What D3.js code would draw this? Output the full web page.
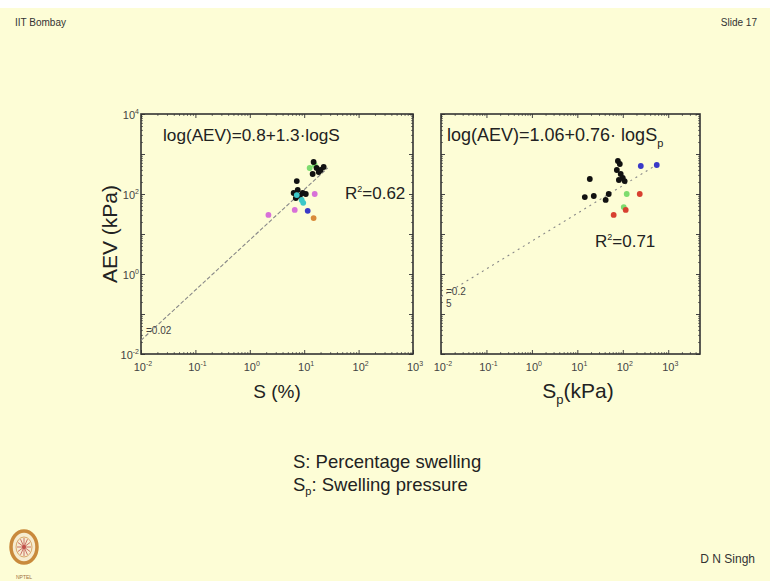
<!DOCTYPE html>
<html>
<head>
<meta charset="utf-8">
<script src="https://cdn.jsdelivr.net/npm/d3@7"></script>
<style>
  body { margin: 0; background: #fff; }
  svg { display: block; font-family: "Liberation Sans", Arial, sans-serif; }
</style>
</head>
<body>
<svg id="chart" width="770" height="581"></svg>
<script>
// tick labels (exponents of 10)
const xTickExp = [-2, -1, 0, 1, 2, 3];
const yTickExp = [4, 2, 0, -2];

// left panel: S (%) vs AEV (kPa), one array per marker colour
const leftBlack = [[14.9, 631], [16.9, 447], [20, 398], [22.8, 473], [18.5, 355], [14.3, 316],
  [7.3, 211], [6.4, 106], [7.6, 126], [8.3, 89], [9.4, 106], [10.7, 100], [7.0, 79]];
const leftGreen = [[15.6, 531], [12.6, 447]];
const leftCyan = [[7.3, 94], [9.0, 71], [9.6, 60]];
const leftMagenta = [[15.6, 100], [6.7, 40], [2.2, 30]];
const leftBlue = [[11.6, 38]];
const leftOrange = [[14.9, 25]];
const leftFit = [[0.01, 0.022], [27, 447]];

// right panel: Sp (kPa) vs AEV (kPa)
const rightBlack = [[18.8, 237], [14.6, 84], [23, 89], [42, 71], [49, 100], [78, 668], [86, 562],
  [74, 398], [90, 316], [100, 251], [82, 224], [110, 211]];
const rightBlue = [[249, 501], [559, 531]];
const rightGreen = [[122, 100], [105, 47]];
const rightRed = [[236, 100], [116, 40], [63, 30]];
const rightFit = [[0.01, 0.27], [460, 470]];

const colors = {
  black: '#111', green: '#7ddc6e', cyan: '#3cc8c8', magenta: '#d870d8',
  blue: '#3a3ac8', orange: '#d98a3a', red: '#d84030'
};

const svg = d3.select('#chart');

// slide background
svg.append('rect').attr('width', 770).attr('height', 581).attr('fill', '#fff');
svg.append('rect').attr('y', 8).attr('width', 770).attr('height', 573).attr('fill', '#fdfdd6');

svg.append('text').attr('x', 15).attr('y', 26).attr('font-size', 10).attr('fill', '#333').text('IIT Bombay');
svg.append('text').attr('x', 757).attr('y', 26).attr('font-size', 10).attr('fill', '#333')
  .attr('text-anchor', 'end').text('Slide 17');
svg.append('text').attr('x', 755).attr('y', 563).attr('font-size', 12).attr('fill', '#333')
  .attr('text-anchor', 'end').text('D N Singh');

// y scale is shared by both panels
const y = d3.scaleLog().domain([1e-2, 1e4]).range([354, 114]);
const xL = d3.scaleLog().domain([1e-2, 1e3]).range([141, 413]);
const xR = d3.scaleLog().domain([1e-2, 5000]).range([441, 700]);

function minorTicks(domain) {
  const out = [];
  for (let e = Math.floor(Math.log10(domain[0])); e < Math.ceil(Math.log10(domain[1])); e++) {
    for (let k = 2; k <= 9; k++) {
      const v = k * Math.pow(10, e);
      if (v > domain[0] && v < domain[1]) out.push(v);
    }
  }
  return out;
}
function majorTicks(domain) {
  const out = [];
  for (let e = Math.ceil(Math.log10(domain[0]) - 1e-9); Math.pow(10, e) <= domain[1] * 1.0001; e++) out.push(Math.pow(10, e));
  return out;
}

function powLabel(g, x0, y0, exp, anchor) {
  const t = g.append('text').attr('x', x0).attr('y', y0).attr('font-size', 11)
    .attr('fill', '#444').attr('text-anchor', anchor);
  t.append('tspan').text('10');
  t.append('tspan').attr('font-size', 7).attr('dy', -5).text(exp);
}

function panel(x, opts) {
  const g = svg.append('g');
  const [x0, x1] = x.range();
  const [y0, y1] = y.range();

  // ticks on all four sides, pointing inward
  const sides = [
    [d3.axisBottom(x), `translate(0,${y0})`],
    [d3.axisTop(x), `translate(0,${y1})`],
    [d3.axisLeft(y), `translate(${x0},0)`],
    [d3.axisRight(y), `translate(${x1},0)`]
  ];
  sides.forEach(([ax, tr], i) => {
    const dom = (i < 2 ? x : y).domain();
    g.append('g').attr('transform', tr)
      .call(ax.tickValues(minorTicks(dom)).tickSize(-2).tickFormat(''))
      .call(s => s.select('.domain').remove())
      .selectAll('line').attr('stroke', '#555').attr('stroke-width', 0.8);
    g.append('g').attr('transform', tr)
      .call(ax.tickValues(majorTicks(dom)).tickSize(-4).tickFormat(''))
      .call(s => s.select('.domain').remove())
      .selectAll('line').attr('stroke', '#444').attr('stroke-width', 1);
  });

  g.append('rect').attr('x', x0).attr('y', y1).attr('width', x1 - x0).attr('height', y0 - y1)
    .attr('fill', 'none').attr('stroke', '#333').attr('stroke-width', 1.6);

  // tick labels
  xTickExp.forEach(e => powLabel(g, x(Math.pow(10, e)) + 2, y0 + 17, e, 'middle'));
  if (opts.yLabels) {
    yTickExp.forEach(e => powLabel(g, x0 - 2, y(Math.pow(10, e)) + 5, e, 'end'));
  }

  // fitted line
  g.append('path')
    .datum(opts.fit)
    .attr('d', d3.line().x(d => x(d[0])).y(d => y(d[1])))
    .attr('fill', 'none').attr('stroke', '#888').attr('stroke-width', 1.1)
    .attr('stroke-dasharray', opts.dash);

  // points
  opts.series.forEach(([data, c]) => {
    g.append('g').selectAll('circle').data(data).join('circle')
      .attr('cx', d => x(d[0])).attr('cy', d => y(d[1])).attr('r', 2.9)
      .attr('fill', colors[c]);
  });
  return g;
}

const gl = panel(xL, {
  yLabels: true, fit: leftFit, dash: '4,2',
  series: [[leftGreen, 'green'], [leftMagenta, 'magenta'], [leftBlue, 'blue'], [leftOrange, 'orange'],
    [leftBlack, 'black'], [leftCyan, 'cyan']]
});
const gr = panel(xR, {
  yLabels: false, fit: rightFit, dash: '2,4',
  series: [[rightBlack, 'black'], [rightBlue, 'blue'], [rightGreen, 'green'], [rightRed, 'red']]
});

// equation and R² annotations
gl.append('text').attr('x', 163).attr('y', 141).attr('font-size', 17.2).attr('fill', '#222')
  .text('log(AEV)=0.8+1.3·logS');
const r1 = gl.append('text').attr('x', 345).attr('y', 199).attr('font-size', 17).attr('fill', '#222');
r1.append('tspan').text('R');
r1.append('tspan').attr('font-size', 9).attr('dy', -7).text('2');
r1.append('tspan').attr('dy', 7).text('=0.62');
gl.append('text').attr('x', 146).attr('y', 334).attr('font-size', 10).attr('fill', '#444').text('=0.02');

const eq2 = gr.append('text').attr('x', 447).attr('y', 141).attr('font-size', 18).attr('fill', '#222');
eq2.append('tspan').text('log(AEV)=1.06+0.76· logS');
eq2.append('tspan').attr('font-size', 11).attr('dy', 6).text('p');
const r2 = gr.append('text').attr('x', 595).attr('y', 247).attr('font-size', 17).attr('fill', '#222');
r2.append('tspan').text('R');
r2.append('tspan').attr('font-size', 9).attr('dy', -7).text('2');
r2.append('tspan').attr('dy', 7).text('=0.71');
gr.append('text').attr('x', 446).attr('y', 295).attr('font-size', 10).attr('fill', '#444').text('=0.2');
gr.append('text').attr('x', 446).attr('y', 307).attr('font-size', 10).attr('fill', '#444').text('5');

// axis titles
svg.append('text').attr('transform', 'translate(117,234) rotate(-90)').attr('text-anchor', 'middle')
  .attr('font-size', 21).attr('fill', '#222').text('AEV (kPa)');
svg.append('text').attr('x', 277).attr('y', 398).attr('text-anchor', 'middle')
  .attr('font-size', 19).attr('fill', '#222').text('S (%)');
const sp = svg.append('text').attr('x', 578).attr('y', 398).attr('text-anchor', 'middle')
  .attr('font-size', 21).attr('fill', '#222');
sp.append('tspan').text('S');
sp.append('tspan').attr('font-size', 13).attr('dy', 6).text('p');
sp.append('tspan').attr('dy', -6).text('(kPa)');

// legend text below the plots
svg.append('text').attr('x', 293).attr('y', 468).attr('font-size', 18.5).attr('fill', '#222')
  .text('S: Percentage swelling');
const lg = svg.append('text').attr('x', 293).attr('y', 491).attr('font-size', 18.5).attr('fill', '#222');
lg.append('tspan').text('S');
lg.append('tspan').attr('font-size', 11).attr('dy', 4).text('p');
lg.append('tspan').attr('dy', -4).text(': Swelling pressure');

// NPTEL logo (simple drawing)
const logo = svg.append('g').attr('transform', 'translate(24,547)');
logo.append('ellipse').attr('rx', 13).attr('ry', 16).attr('fill', '#f6ecd0')
  .attr('stroke', '#c98a3c').attr('stroke-width', 3.5);
logo.append('ellipse').attr('rx', 8).attr('ry', 10).attr('fill', 'none')
  .attr('stroke', '#d9a86a').attr('stroke-width', 1);
d3.range(12).forEach(i => {
  const a = i * Math.PI / 6;
  logo.append('line').attr('x1', 0).attr('y1', 0)
    .attr('x2', 7 * Math.cos(a)).attr('y2', 9 * Math.sin(a))
    .attr('stroke', '#c0504a').attr('stroke-width', 0.8);
});
logo.append('circle').attr('r', 2).attr('fill', '#c0504a');
svg.append('text').attr('x', 24).attr('y', 579).attr('text-anchor', 'middle').attr('font-size', 5)
  .attr('fill', '#a07040').text('NPTEL');
</script>
</body>
</html>
